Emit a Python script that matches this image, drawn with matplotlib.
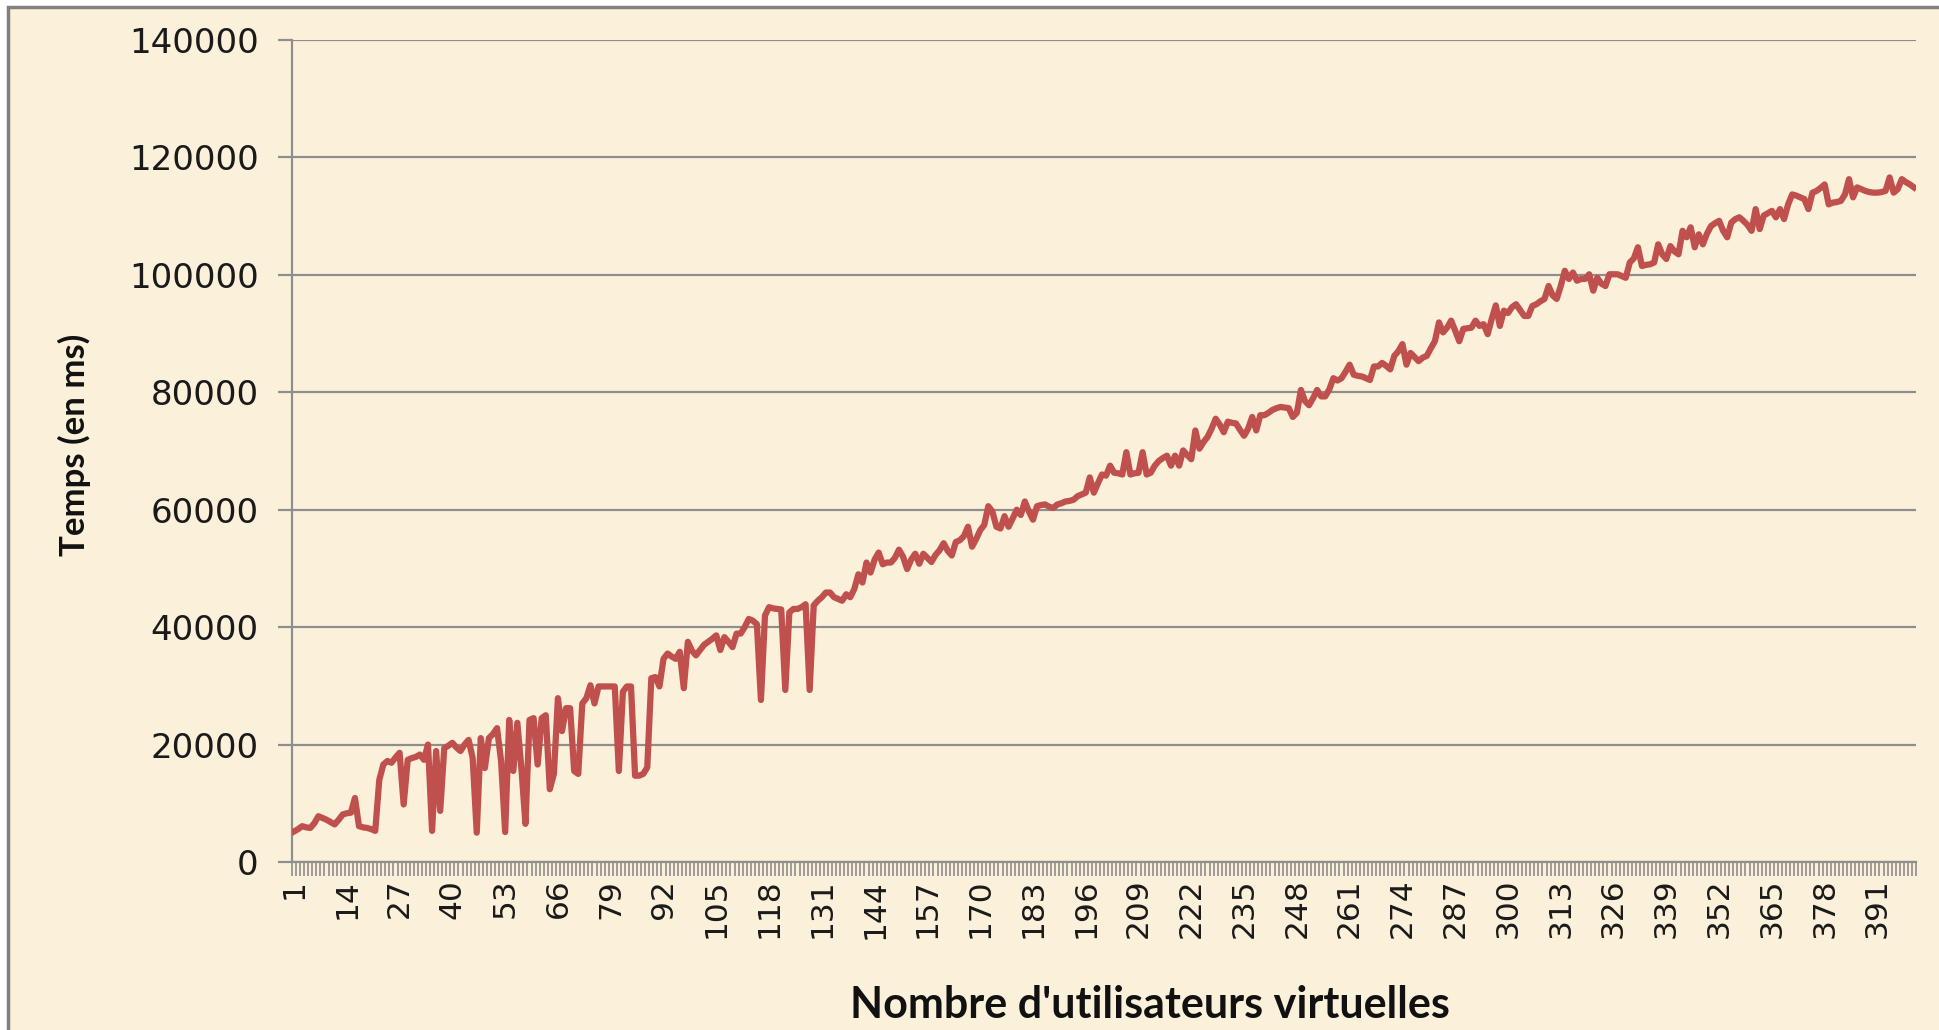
import numpy as np
import matplotlib
matplotlib.use("Agg")
import matplotlib.pyplot as plt
from matplotlib.patches import Rectangle

# temps de reponse (ms) pour 1..400 utilisateurs virtuels
temps = [
    5200, 5600, 6100, 5900, 5800, 6600, 7800, 7500, 7200, 6800,
    6400, 7200, 8100, 8300, 8400, 10900, 6100, 5900, 5800, 5600,
    5300, 14000, 16600, 17200, 16900, 17800, 18600, 9800, 17400, 17700,
    17900, 18300, 17400, 20000, 5300, 18900, 8700, 19400, 19800, 20300,
    19500, 18900, 20000, 20800, 17700, 5000, 21100, 16000, 21100, 21800,
    22800, 17200, 5100, 24200, 15500, 23700, 16000, 6500, 24200, 24500,
    16600, 24500, 25000, 12400, 15000, 27900, 22300, 26200, 26200, 15500,
    15000, 27000, 27900, 30100, 27000, 29900, 29900, 29900, 29900, 29900,
    15500, 29000, 29900, 29900, 14700, 14700, 15000, 16100, 31300, 31500,
    29900, 34600, 35500, 35000, 34600, 35800, 29600, 37500, 36000, 35200,
    36100, 37000, 37500, 38000, 38600, 36100, 38300, 37500, 36600, 38900,
    38900, 40000, 41400, 41100, 40500, 27600, 42000, 43400, 43200, 43100,
    43000, 29300, 42500, 43100, 43100, 43400, 43900, 29300, 43700, 44500,
    45100, 45900, 45900, 45100, 44800, 44500, 45600, 45100, 46500, 49000,
    47600, 51000, 49300, 51500, 52700, 50700, 51000, 51000, 51800, 53200,
    52000, 49900, 51500, 52500, 50800, 52500, 51800, 51100, 52300, 53100,
    54300, 53000, 52200, 54500, 54800, 55500, 57100, 53700, 55000, 56500,
    57400, 60600, 59700, 57100, 56800, 58900, 57100, 58500, 60000, 59100,
    61400, 59700, 58300, 60600, 60800, 60900, 60500, 60300, 60900, 61100,
    61400, 61500, 61700, 62300, 62600, 62900, 65500, 62900, 64500, 66000,
    65800, 67500, 66300, 66200, 66000, 69800, 66000, 66200, 66300, 69800,
    66000, 66300, 67500, 68300, 68800, 69200, 67500, 69200, 67500, 70100,
    69300, 68600, 73500, 70400, 71500, 72400, 73800, 75500, 74500, 73200,
    75000, 74800, 74700, 73600, 72600, 73800, 75800, 73500, 76100, 76100,
    76500, 77000, 77300, 77500, 77400, 77300, 75800, 76500, 80400, 78500,
    77800, 79000, 80400, 79300, 79300, 80500, 82400, 82000, 82400, 83500,
    84700, 83000, 82800, 82700, 82400, 82100, 84400, 84400, 85000, 84500,
    83900, 86200, 87000, 88200, 84700, 86700, 86000, 85300, 85900, 86200,
    87500, 88700, 91900, 90200, 91000, 92200, 90500, 88700, 90800, 90900,
    91000, 92200, 91300, 91600, 89900, 92500, 94800, 91300, 93900, 93500,
    94500, 95000, 94000, 93000, 93000, 94700, 95000, 95500, 95900, 98100,
    96500, 95900, 98100, 100700, 99300, 100400, 99000, 99300, 99300, 100100,
    97300, 99500, 98500, 98100, 100100, 100100, 100100, 99800, 99500, 102100,
    102800, 104700, 101500, 101700, 101800, 102100, 105200, 103500, 102700, 104900,
    104000, 103500, 107500, 106400, 108100, 104700, 106900, 105200, 107000, 108300,
    108800, 109200, 107500, 106400, 108900, 109500, 109800, 109200, 108500, 107500,
    111200, 107800, 110100, 110500, 110900, 109800, 111200, 109500, 112000, 113700,
    113500, 113200, 112900, 111200, 114000, 114300, 114800, 115400, 112000, 112300,
    112400, 112600, 113700, 116300, 113200, 114900, 114600, 114300, 114100, 114000,
    114000, 114100, 114300, 116600, 114000, 114600, 116300, 115800, 115400, 114900,
]
utilisateurs = list(range(1, len(temps) + 1))
etiquettes_x = list(range(1, 392, 13))
graduations_y = [0, 20000, 40000, 60000, 80000, 100000, 120000, 140000]

fond = '#FBF0D9'
gris = '#8E8E8E'

fig = plt.figure(figsize=(19.4, 10.3), dpi=100, facecolor='white')
# cadre beige du graphique, sous les axes
fig.patches.append(Rectangle((8 / 1940, -0.01), 1.02, 1 - 7 / 1030 + 0.01,
                             transform=fig.transFigure, facecolor=fond,
                             edgecolor='#808080', linewidth=2.5, zorder=-10))

ax = fig.add_axes([292 / 1940, (1030 - 862) / 1030, (1916 - 292) / 1940, (862 - 40) / 1030])
ax.set_facecolor('none')
ax.set_zorder(5)

ax.plot(utilisateurs, temps, color='#C0504D', lw=4.5, solid_joinstyle='round', zorder=3)

ax.set_xlim(0.5, len(temps) + 0.5)
ax.set_ylim(0, 140000)

ax.set_yticks(graduations_y)
ax.set_yticklabels([str(v) for v in graduations_y], fontsize=24.5, color='#1a1a1a')
ax.yaxis.grid(True, color=gris, lw=1.6)
ax.set_axisbelow(True)

ax.set_xticks(etiquettes_x)
ax.set_xticklabels([str(v) for v in etiquettes_x], rotation=90, fontsize=22.5, color='#1a1a1a')
ax.set_xticks(np.arange(0.5, len(temps) + 1, 1), minor=True)
ax.tick_params(axis='x', which='major', length=0, pad=12)
ax.tick_params(axis='x', which='minor', length=10, width=1.2, color=gris)
ax.tick_params(axis='y', length=10, width=1.6, color=gris, pad=14)

for s in ['top', 'right']:
    ax.spines[s].set_visible(False)
for s in ['left', 'bottom']:
    ax.spines[s].set_color(gris)
    ax.spines[s].set_linewidth(1.6)

fig.text(74 / 1940, 1 - 445 / 1030, 'Temps (en ms)', rotation=90, ha='center', va='center',
         fontsize=25, fontweight='bold', family='Lato', color='#111111')
fig.text(1150 / 1940, 1 - 1005 / 1030, "Nombre d'utilisateurs virtuelles", ha='center', va='center',
         fontsize=31, fontweight='bold', family='Lato', color='#111111')

fig.savefig('out.png', dpi=100, facecolor=fig.get_facecolor())
